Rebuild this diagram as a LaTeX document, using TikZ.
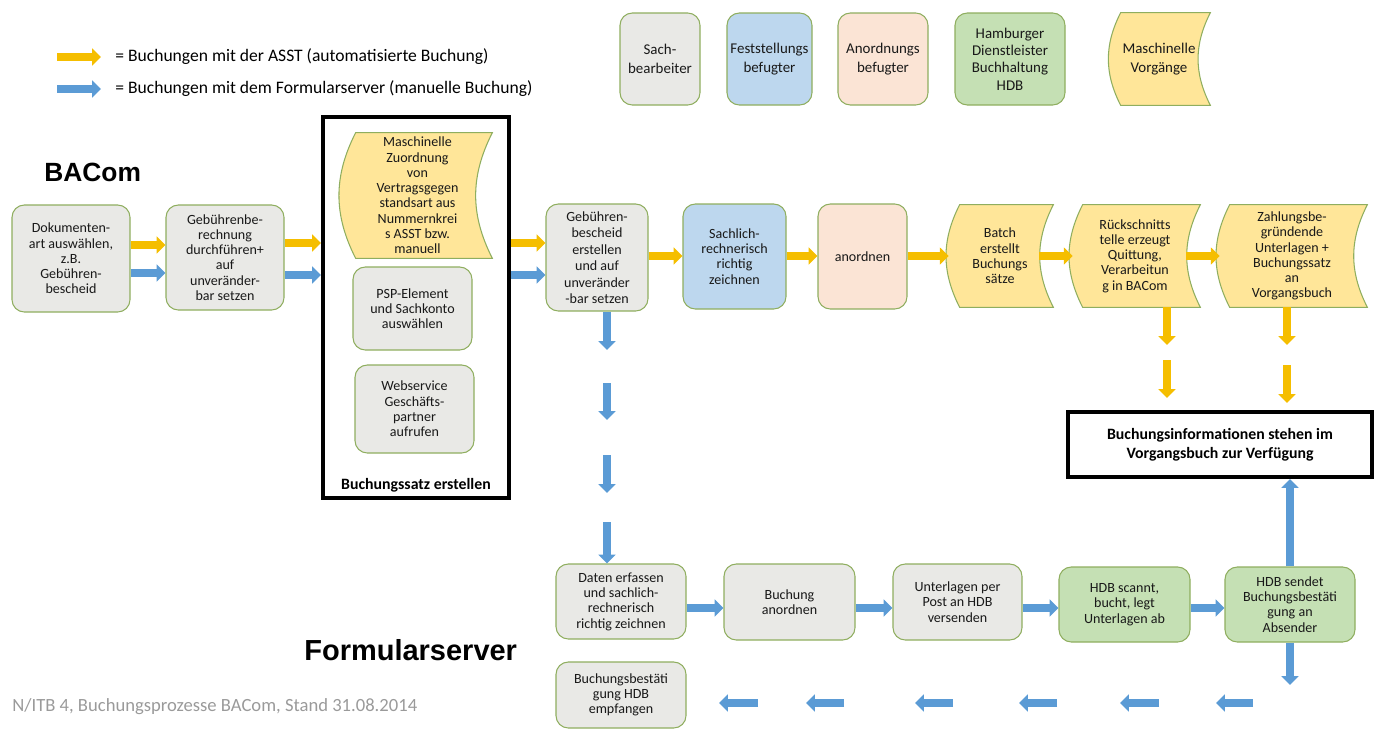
\documentclass[tikz,border=0pt]{standalone}
\usepackage{fontspec}
\setmainfont{Carlito}
\newfontfamily\arialfont{Liberation Sans}
\usetikzlibrary{arrows.meta,calc,backgrounds}
\definecolor{ayel}{HTML}{F5BE00}
\definecolor{ablu}{HTML}{5B9BD5}
\definecolor{bgrey}{HTML}{E9E9E6}
\definecolor{bblue}{HTML}{BDD7EE}
\definecolor{bpeach}{HTML}{FBE4D5}
\definecolor{bgreen}{HTML}{C5E0B4}
\definecolor{byel}{HTML}{FFE699}
\definecolor{bord}{HTML}{8FAE5F}
\definecolor{foottext}{HTML}{9A9A9A}
\newcommand{\sdraw}[1]{\path[sdshape] ($(#1.north west)+(13,0)$) -- (#1.north east) to[bend right=27] (#1.south east) -- ($(#1.south west)+(13,0)$) to[bend left=27] ($(#1.north west)+(13,0)$) -- cycle;}
\begin{document}
\begin{tikzpicture}[x=0.02cm,y=-0.02cm,
  sz/.style 2 args={minimum width=#1*0.02cm, minimum height=#2*0.02cm},
  txt/.style={font=\fontsize{8}{8.7}\selectfont, align=center, text=black!90},
  rbox/.style={txt, draw=bord, line width=0.6pt, rounded corners=7pt, fill=bgrey, inner sep=1pt},
  sdnode/.style={txt, inner sep=1pt},
  sdshape/.style={draw=bord, line width=0.6pt, fill=byel},
  keybox/.style={rbox, font=\fontsize{8.5}{10.5}\selectfont},
  ya/.style={draw=ayel, line width=4.5pt, -{Triangle[length=5pt,width=9.5pt]}},
  ba/.style={draw=ablu, line width=4.5pt, -{Triangle[length=5pt,width=9.5pt]}},
  frame/.style={draw=black, line width=2.3pt, inner sep=0pt},
  lgtext/.style={font=\fontsize{10}{11}\selectfont, inner sep=0pt},
  title/.style={font=\arialfont\bfseries\fontsize{15}{15}\selectfont, inner sep=0pt}
]
\useasboundingbox (0,0) rectangle (1376,730);

% legend
\coordinate (lya) at (57,57); \coordinate (lyb) at (101,57);
\coordinate (lba) at (57,89); \coordinate (lbb) at (101,89);
\draw[ya] (lya) -- (lyb);
\draw[ba] (lba) -- (lbb);
\node[lgtext, anchor=west] (lyt) at (115,57) {= Buchungen mit der ASST (automatisierte Buchung)};
\node[lgtext, anchor=west] (lbt) at (115,89) {= Buchungen mit dem Formularserver (manuelle Buchung)};

% key boxes
\node[keybox, sz={80}{92}] (kS) at (660,59) {Sach-\\bearbeiter};
\node[keybox, fill=bblue, sz={85}{92}] (kF) at (769.5,59) {Feststellungs\\befugter};
\node[keybox, fill=bpeach, sz={90}{92}] (kA) at (883,59) {Anordnungs\\befugter};
\node[keybox, fill=bgreen, sz={110}{92}, font=\fontsize{8.5}{9.8}\selectfont] (kH) at (1010,59) {Hamburger\\Dienstleister\\Buchhaltung\\HDB};
\node[sdnode, sz={102}{92}, font=\fontsize{8.5}{10.5}\selectfont] (kM) at (1159,59) {Maschinelle\\Vorgänge};

% titles
\node[title, anchor=west] (tBA) at (44,172) {BACom};
\node[title, anchor=west, font=\arialfont\bfseries\fontsize{16.5}{16.5}\selectfont] (tFS) at (304,650) {Formularserver};
\node[anchor=west, inner sep=0pt, text=foottext, font=\fontsize{10.6}{12}\selectfont] (foot) at (12,707) {N/ITB 4, Buchungsprozesse BACom, Stand 31.08.2014};

% row 1
\node[rbox, sz={118}{107}] (dok) at (71,258.5) {Dokumenten-\\art auswählen,\\z.B.\\Gebühren-\\bescheid};
\node[rbox, sz={118}{105}] (geb) at (225,257.5) {Gebührenbe-\\rechnung\\durchführen+\\auf\\unveränder-\\bar setzen};
\node[frame, sz={186}{381}] (bs) at (416,307.5) {};
\node[sdnode, sz={149}{125}] (mz) at (417.5,195.5) {Maschinelle\\Zuordnung\\von\\Vertragsgegen\\standsart aus\\Nummernkrei\\s ASST bzw.\\manuell};
\node[rbox, sz={119}{83}] (psp) at (412.5,308.5) {PSP-Element\\und Sachkonto\\auswählen};
\node[rbox, sz={119}{88}] (web) at (414.5,409) {Webservice\\Geschäfts-\\partner\\aufrufen};
\node[font=\bfseries\fontsize{9}{10}\selectfont, inner sep=0pt] (bsl) at (416,485) {Buchungssatz erstellen};
\node[rbox, sz={102}{107}, font=\fontsize{8}{9.4}\selectfont] (gbe) at (597,257.5) {Gebühren-\\bescheid\\erstellen\\und auf\\unveränder\\-bar setzen};
\node[rbox, fill=bblue, sz={103}{105}] (sach) at (734.5,256.5) {Sachlich-\\rechnerisch\\richtig\\zeichnen};
\node[rbox, fill=bpeach, sz={89}{105}] (anord) at (862.5,256.5) {anordnen};
\node[sdnode, sz={106}{102}] (batch) at (1000,256) {Batch\\erstellt\\Buchungs\\sätze};
\node[sdnode, sz={130}{102}] (rueck) at (1135,256) {Rückschnitts\\telle erzeugt\\Quittung,\\Verarbeitun\\g in BACom};
\node[sdnode, sz={150}{102}] (zahl) at (1292,256) {Zahlungsbe-\\gründende\\Unterlagen +\\Buchungssatz\\an\\Vorgangsbuch};
\node[frame, sz={304}{65}, align=center, font=\bfseries\fontsize{9}{11}\selectfont] (info) at (1220,444.5) {Buchungsinformationen stehen im\\Vorgangsbuch zur Verfügung};

% row 2
\node[rbox, sz={130}{75}] (daten) at (621,601.5) {Daten erfassen\\und sachlich-\\rechnerisch\\richtig zeichnen};
\node[rbox, sz={131}{76}] (buan) at (789.5,602) {Buchung\\anordnen};
\node[rbox, sz={129}{76}] (unter) at (957.5,602) {Unterlagen per\\Post an HDB\\versenden};
\node[rbox, fill=bgreen, sz={131}{75}] (hdbs) at (1124.5,604.5) {HDB scannt,\\bucht, legt\\Unterlagen ab};
\node[rbox, fill=bgreen, sz={130}{75}] (hdbb) at (1290,604.5) {HDB sendet\\Buchungsbestäti\\gung an\\Absender};
\node[rbox, sz={130}{66}] (bbe) at (621,695) {Buchungsbestäti\\gung HDB\\empfangen};

% stored-data shapes
\begin{scope}[on background layer]
\sdraw{kM}
\sdraw{mz}
\sdraw{batch}
\sdraw{rueck}
\sdraw{zahl}
\end{scope}

% y levels
\coordinate (yA) at (0,245); \coordinate (yB) at (0,273);
\coordinate (yC) at (0,243); \coordinate (yD) at (0,275);
\coordinate (yE) at (0,256); \coordinate (yF) at (0,608);

% row 1 arrows
\draw[ya] (dok.east |- yA) -- (geb.west |- yA);
\draw[ba] (dok.east |- yB) -- (geb.west |- yB);
\draw[ya] (geb.east |- yC) -- (bs.west |- yC);
\draw[ba] (geb.east |- yD) -- (bs.west |- yD);
\draw[ya] (bs.east |- yC) -- (gbe.west |- yC);
\draw[ba] (bs.east |- yD) -- (gbe.west |- yD);
\draw[ya] (gbe.east |- yE) -- (sach.west |- yE);
\draw[ya] (sach.east |- yE) -- (anord.west |- yE);
\draw[ya] (anord.east |- yE) -- ($(batch.west |- yE)+(2,0)$);
\draw[ya] ($(batch.east |- yE)+(-14,0)$) -- ($(rueck.west |- yE)+(3,0)$);
\draw[ya] ($(rueck.east |- yE)+(-14,0)$) -- ($(zahl.west |- yE)+(3,0)$);

% dashed-style down arrows from gbe
\coordinate (g1) at (607,350); \coordinate (g2a) at (607,383); \coordinate (g2b) at (607,420);
\coordinate (g3a) at (607,455); \coordinate (g3b) at (607,493); \coordinate (g4a) at (607,522);
\draw[ba] (g1 |- gbe.south) -- (g1);
\draw[ba] (g2a) -- (g2b);
\draw[ba] (g3a) -- (g3b);
\draw[ba] (g4a) -- (g4a |- daten.north);

% yellow down arrows
\coordinate (r1) at (1167,345); \coordinate (r2a) at (1167,360); \coordinate (r2b) at (1167,398);
\coordinate (z1) at (1287,345); \coordinate (z2a) at (1287,365); \coordinate (z2b) at (1287,403);
\draw[ya] (r1 |- rueck.south) -- (r1);
\draw[ya] (r2a) -- (r2b);
\draw[ya] (z1 |- zahl.south) -- (z1);
\draw[ya] (z2a) -- (z2b);

% row 2 arrows
\draw[ba] (daten.east |- yF) -- (buan.west |- yF);
\draw[ba] (buan.east |- yF) -- (unter.west |- yF);
\draw[ba] (unter.east |- yF) -- (hdbs.west |- yF);
\draw[ba] (hdbs.east |- yF) -- (hdbb.west |- yF);
\draw[ba] (hdbb.north) -- (hdbb.north |- info.south);
\coordinate (hd) at (1290,685);
\draw[ba] (hdbb.south) -- (hd);

% bottom return arrows
\foreach \a/\b [count=\i] in {1253/1216,1159/1120,1057/1019,953/915,844/806,758/719}{
  \coordinate (ra\i) at (\a,703); \coordinate (rb\i) at (\b,703);
  \draw[ba] (ra\i) -- (rb\i);
}
\end{tikzpicture}
\end{document}
